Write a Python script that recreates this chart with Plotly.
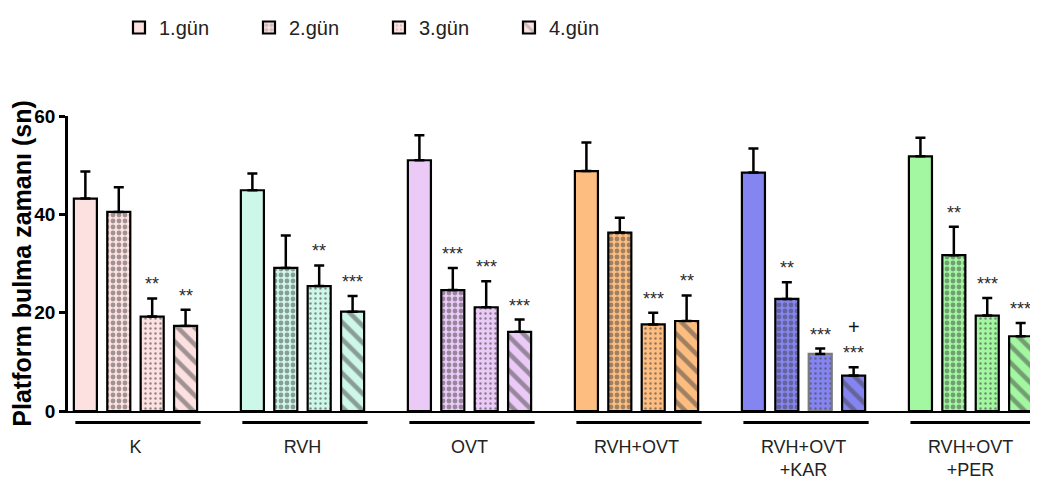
import plotly.graph_objects as go

groups = ["K", "RVH", "OVT", "RVH+OVT", "RVH+OVT<br>+KAR", "RVH+OVT<br>+PER"]
days = ["1.gün", "2.gün", "3.gün", "4.gün"]

group_colors = ["#fde0e0", "#cdf7e8", "#ebcaf7", "#fdbd80", "#8585f2", "#a2f7a0"]

# mean platform-finding time (s) per day, for each group
day1 = [43.2, 44.9, 51.0, 48.8, 48.5, 51.8]
day2 = [40.5, 29.1, 24.6, 36.3, 22.8, 31.7]
day3 = [19.2, 25.4, 21.1, 17.6, 11.6, 19.4]
day4 = [17.3, 20.2, 16.1, 18.3, 7.2, 15.2]

err1 = [5.5, 3.4, 5.1, 5.8, 4.9, 3.8]
err2 = [5.0, 6.6, 4.5, 3.0, 3.4, 5.8]
err3 = [3.7, 4.2, 5.3, 2.4, 1.1, 3.6]
err4 = [3.3, 3.2, 2.5, 5.2, 1.7, 2.7]

sig1 = ["", "", "", "", "", ""]
sig2 = ["", "", "***", "", "**", "**"]
sig3 = ["**", "**", "***", "***", "***", "***"]
sig4 = ["**", "***", "***", "**", "***", "***"]
plus4 = ["", "", "", "", "+", ""]

values = [day1, day2, day3, day4]
errors = [err1, err2, err3, err4]
sigs = [sig1, sig2, sig3, sig4]

patterns = [
    dict(shape=""),
    dict(shape=".", size=6, solidity=0.5, fgcolor="#999999", fillmode="overlay"),
    dict(shape=".", size=5, solidity=0.18, fgcolor="#9a9a9a", fgopacity=0.6, fillmode="overlay"),
    dict(shape="\\", size=12, solidity=0.38, fgcolor="#999999", fillmode="overlay"),
]

fig = go.Figure()
for d in range(4):
    line_cols = ["black"] * len(groups)
    if d == 2:
        line_cols[4] = "#7a7a7a"
    fig.add_trace(go.Bar(
        x=groups, y=values[d], name=days[d],
        marker=dict(color=group_colors, line=dict(color=line_cols, width=2.2),
                    pattern=patterns[d]),
        error_y=dict(type="data", array=errors[d], arrayminus=[0] * len(groups),
                     symmetric=False, color="black", thickness=2.5, width=5),
    ))

slot = 0.2
annotations = []
for d in range(4):
    for g in range(len(groups)):
        top = values[d][g] + errors[d][g]
        xpos = g + (d - 1.5) * slot
        if sigs[d][g]:
            annotations.append(dict(x=xpos, y=top, xref="x", yref="y", text=sigs[d][g],
                                    showarrow=False, yanchor="bottom", yshift=2,
                                    font=dict(size=18, color="#2a2a2a", family="Liberation Sans")))
        if d == 3 and plus4[g]:
            annotations.append(dict(x=xpos, y=top, xref="x", yref="y", text=plus4[g],
                                    showarrow=False, yanchor="bottom", yshift=27,
                                    font=dict(size=20, color="#111111", family="Liberation Sans")))

shapes = []
for g in range(len(groups)):
    shapes.append(dict(type="line", xref="x", yref="paper", x0=g - 0.36, x1=g + 0.39,
                       y0=-0.039, y1=-0.039, line=dict(color="black", width=3)))

fig.update_layout(
    width=1022, height=471,
    margin=dict(l=60, r=0, t=108, b=68),
    paper_bgcolor="white", plot_bgcolor="white",
    barmode="group", bargap=0.2, bargroupgap=0.31,
    font=dict(family="Liberation Sans", color="black"),
    showlegend=True,
    legend=dict(orientation="h", x=0.053, xref="paper", y=1.0, yref="container",
                xanchor="left", yanchor="top",
                font=dict(size=20, family="Liberation Sans", color="#222222"),
                entrywidth=85, itemwidth=30, bgcolor="rgba(0,0,0,0)"),
    annotations=annotations,
    shapes=shapes,
)
fig.update_xaxes(
    type="category", range=[-0.404, 5.356], showline=True, linecolor="black", linewidth=2,
    ticks="", showgrid=False, zeroline=False, ticklabelstandoff=18,
    tickfont=dict(size=18, family="Liberation Sans", color="#222222"),
)
fig.update_yaxes(
    range=[0, 60], tickvals=[0, 20, 40, 60], showline=True, linecolor="black", linewidth=2.5,
    ticks="outside", ticklen=6, tickwidth=2.5, tickcolor="black", showgrid=False, zeroline=False,
    tickfont=dict(size=19, family="Liberation Sans", color="black", weight="bold"),
    title=dict(text="Platform bulma zamanı (sn)", standoff=6,
               font=dict(size=25, family="Liberation Sans", color="black", weight="bold")),
)

fig.write_html("out.html")
